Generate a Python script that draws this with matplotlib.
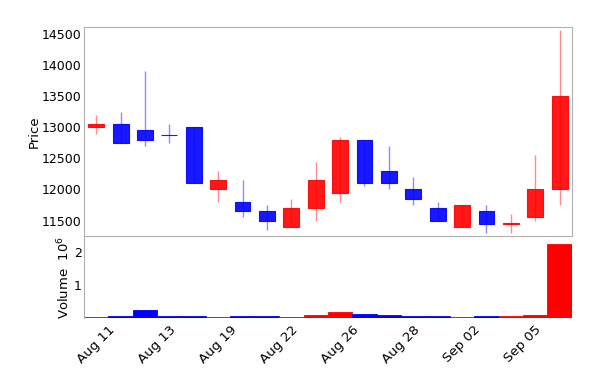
import numpy as np
import pandas as pd
import matplotlib
matplotlib.use('Agg')
import matplotlib.pyplot as plt
from matplotlib.ticker import FuncFormatter, FixedLocator

# daily data
dates = ['2014-08-11', '2014-08-12', '2014-08-13', '2014-08-14', '2014-08-18',
         '2014-08-19', '2014-08-20', '2014-08-21', '2014-08-22', '2014-08-25',
         '2014-08-26', '2014-08-27', '2014-08-28', '2014-08-29', '2014-09-01',
         '2014-09-02', '2014-09-03', '2014-09-04', '2014-09-05', '2014-09-11']
opens = [13000, 13050, 12950, 12880, 13000, 12000, 11800, 11650, 11400, 11700,
         11950, 12800, 12300, 12000, 11700, 11400, 11650, 11450, 11550, 12000]
highs = [13200, 13250, 13900, 13050, 13000, 12300, 12150, 11750, 11850, 12450,
         12850, 12800, 12700, 12200, 11800, 11750, 11750, 11600, 12550, 14570]
lows = [12900, 12750, 12700, 12750, 12100, 11800, 11550, 11350, 11400, 11500,
        11800, 12050, 12000, 11750, 11500, 11400, 11300, 11300, 11500, 11750]
closes = [13050, 12750, 12800, 12870, 12100, 12150, 11650, 11500, 11700, 12150,
          12800, 12100, 12100, 11850, 11500, 11750, 11450, 11460, 12000, 13500]
volumes = [0.04, 0.07, 0.25, 0.05, 0.06, 0.04, 0.06, 0.06, 0.04, 0.09,
           0.19, 0.11, 0.09, 0.05, 0.05, 0.04, 0.07, 0.07, 0.08, 2.25]

dates = pd.to_datetime(dates)
o = np.array(opens, dtype=float)
h = np.array(highs, dtype=float)
l = np.array(lows, dtype=float)
c = np.array(closes, dtype=float)
v = np.array(volumes) * 1e6
x = np.arange(len(dates))

up = c > o
body_col = np.where(up, '#ff0000', '#0000ff')

fig = plt.figure(figsize=(6, 3.89), dpi=100)
axv = fig.add_axes([0.14, 0.1825, 0.813, 0.2105])
ax = fig.add_axes([0.14, 0.393, 0.813, 0.537], sharex=axv)

# wicks then bodies
ax.vlines(x, l, h, colors=body_col, linewidth=1, alpha=0.45, zorder=1)
ax.bar(x, c - o, bottom=o, width=0.65, color=body_col, edgecolor=body_col,
       linewidth=0.8, alpha=0.9, zorder=2)

axv.bar(x, v, width=1.0, color=body_col, edgecolor=body_col, linewidth=0.6)

ax.set_xlim(-0.5, len(x) - 0.5)
ax.set_ylim(11250, 14610)
ax.set_yticks([11500, 12000, 12500, 13000, 13500, 14000, 14500])
ax.set_ylabel('Price', fontsize=9.5, labelpad=1)
ax.tick_params(axis='y', length=0, pad=1.5, labelsize=9)
ax.tick_params(axis='x', length=0, labelbottom=False)
for s in ax.spines.values():
    s.set_color('#b0b0b0')

axv.set_ylim(0, 1.1 * v.max())
axv.set_yticks([1e6, 2e6])
axv.yaxis.set_major_formatter(FuncFormatter(lambda val, pos: '%d' % round(val / 1e6)))
axv.set_ylabel('Volume  $10^{6}$', fontsize=9.5, labelpad=1)
axv.tick_params(axis='y', length=0, pad=1.5, labelsize=9)
for side in ['top', 'right', 'bottom']:
    axv.spines[side].set_visible(False)
axv.spines['left'].set_color('#b0b0b0')


def date_fmt(val, pos):
    i = int(round(val))
    if 0 <= i < len(dates):
        return dates[i].strftime('%b %d')
    return ''


axv.xaxis.set_major_locator(FixedLocator(np.arange(0, len(x), 2.5)))
axv.xaxis.set_major_formatter(FuncFormatter(date_fmt))
axv.tick_params(axis='x', length=0, pad=4, labelsize=9.5)
for lab in axv.get_xticklabels():
    lab.set_rotation(45)
    lab.set_ha('center')

fig.savefig('out.png', dpi=100)
